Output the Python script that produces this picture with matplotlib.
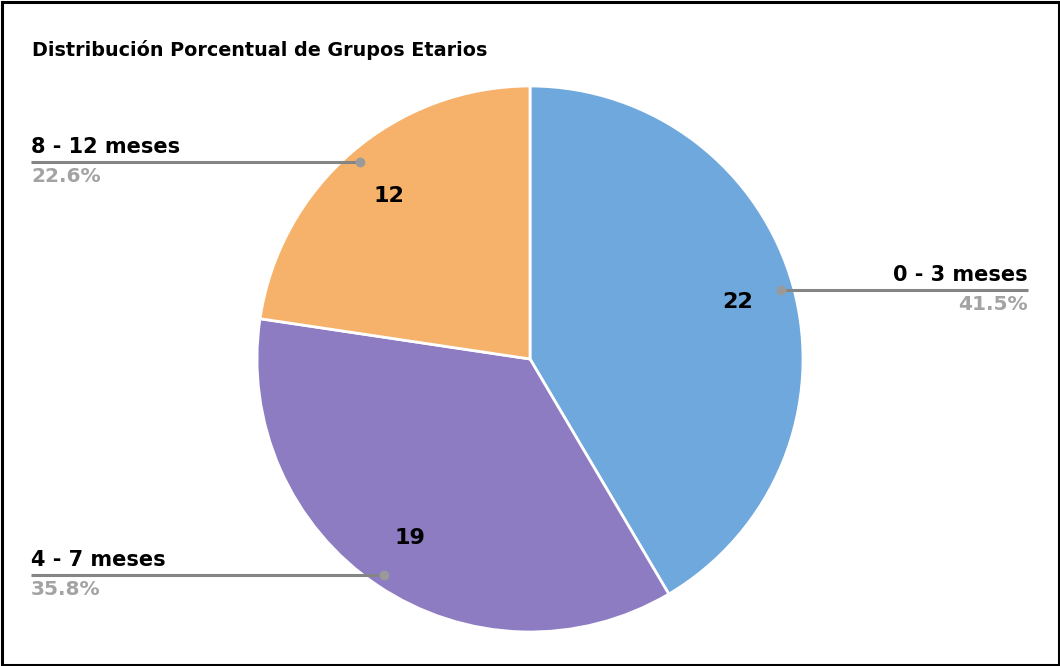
import numpy as np
import matplotlib
matplotlib.use("Agg")
import matplotlib.pyplot as plt
from matplotlib.patches import Rectangle

plt.rcParams['font.family'] = ['DejaVu Sans']

categories = ["0 - 3 meses", "4 - 7 meses", "8 - 12 meses"]
values = [22, 19, 12]
colors = ["#6fa8dc", "#8e7cc3", "#f6b26b"]
title = "Distribución Porcentual de Grupos Etarios"

W, H = 1060, 666
fig = plt.figure(figsize=(W / 100, H / 100), dpi=100)
ax = fig.add_axes([0, 0, 1, 1])

cx, cy, R = 530, H - 359, 273
total = sum(values)

wedges, texts, autotexts = ax.pie(
    values, colors=colors, startangle=90, counterclock=False,
    center=(cx, cy), radius=R, frame=True,
    autopct=lambda p: f"{round(p * total / 100)}", pctdistance=0.79,
    wedgeprops=dict(edgecolor="white", linewidth=2),
    textprops=dict(fontsize=16, fontweight='bold', color='black'))
ax.set_xlim(0, W)
ax.set_ylim(0, H)
ax.set_aspect('equal')
ax.axis('off')

# leader lines and outside labels
sides = {0: ('right', 1028), 1: ('left', 31), 2: ('left', 31)}
for i, w in enumerate(wedges):
    mid = np.deg2rad((w.theta1 + w.theta2) / 2)
    dx, dy = cx + 0.955 * R * np.cos(mid), cy + 0.955 * R * np.sin(mid)
    side, xend = sides[i]
    ax.plot([dx, xend], [dy, dy], color="#858585", lw=2.2, solid_capstyle='butt', zorder=5)
    ax.plot([dx], [dy], 'o', color="#9a9a9a", ms=7, mew=0, zorder=6)
    ha = 'right' if side == 'right' else 'left'
    ax.text(xend, dy + 9, categories[i], ha=ha, va='baseline', fontsize=15,
            fontweight='bold', color='black')
    ax.text(xend, dy - 5, f"{values[i] / total * 100:.1f}%", ha=ha, va='top',
            fontsize=14.5, fontweight='bold', color='#a3a3a3')

ax.text(32, H - 50, title, ha='left', va='center', fontsize=13.8,
        fontweight='bold', color='black')

fig.patches.append(Rectangle((1.5 / W, 1.5 / H), 1 - 3 / W, 1 - 3 / H, transform=fig.transFigure,
                             fill=False, edgecolor='black', linewidth=2.2))

fig.savefig("out.png", dpi=100)
